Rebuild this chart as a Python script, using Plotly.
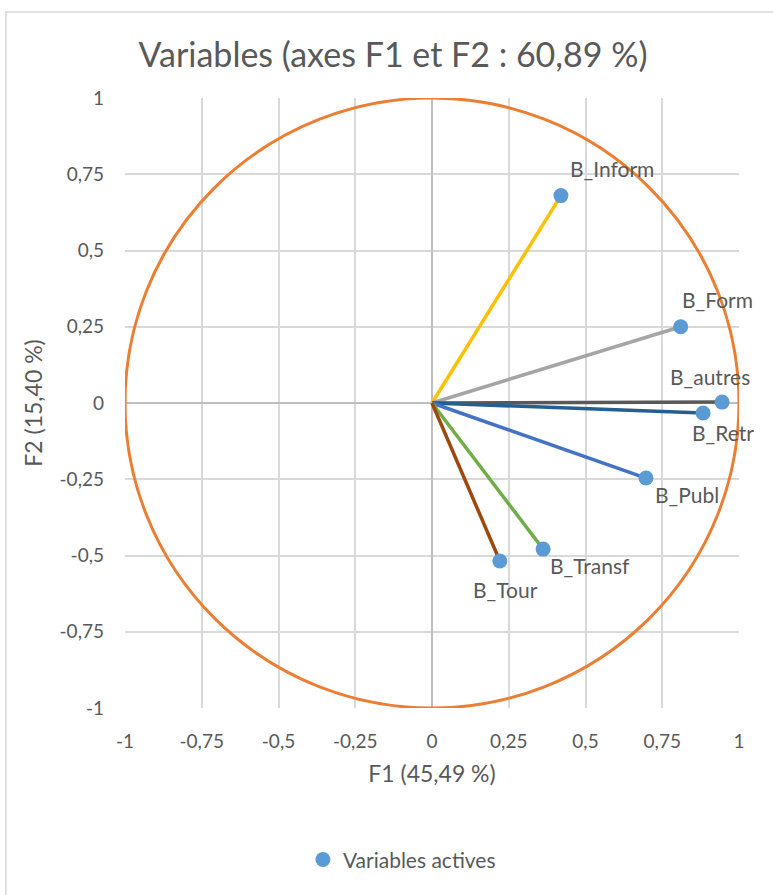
import plotly.graph_objects as go

# coordonnées des variables sur F1 / F2
variables = ["B_Inform", "B_Form", "B_autres", "B_Retr", "B_Publ", "B_Transf", "B_Tour"]
f1 = [0.42, 0.81, 0.945, 0.883, 0.697, 0.362, 0.221]
f2 = [0.68, 0.25, 0.003, -0.033, -0.246, -0.479, -0.518]
couleurs = ["#FFC000", "#A5A5A5", "#595959", "#255E91", "#4472C4", "#70AD47", "#9E480E"]

tick_vals = [-1, -0.75, -0.5, -0.25, 0, 0.25, 0.5, 0.75, 1]
tick_txt = ["-1", "-0,75", "-0,5", "-0,25", "0", "0,25", "0,5", "0,75", "1"]

# décalages des étiquettes (px)
decal = {"B_Inform": (7, 27), "B_Form": (-1, 27), "B_autres": (-54, 26),
         "B_Retr": (-13, -19), "B_Publ": (7, -16), "B_Transf": (5, -16),
         "B_Tour": (-29, -29)}

FONT = "Lato, Calibri, sans-serif"
GRIS = "#595959"

fig = go.Figure()
for nom, x, y, c in zip(variables, f1, f2, couleurs):
    fig.add_trace(go.Scatter(x=[0, x], y=[0, y], mode="lines",
        line=dict(color=c, width=3.5), showlegend=False, hoverinfo="skip"))

fig.add_trace(go.Scatter(x=f1, y=f2, mode="markers", name="Variables actives",
    marker=dict(color="#5B9BD5", size=15)))

for nom, x, y in zip(variables, f1, f2):
    dx, dy = decal[nom]
    fig.add_annotation(x=x, y=y, text=nom, showarrow=False, xanchor="left",
        yanchor="middle", xshift=dx, yshift=dy,
        font=dict(family=FONT, size=21, color=GRIS))

# cercle des corrélations
fig.add_shape(type="circle", xref="x", yref="y", x0=-1, y0=-1, x1=1, y1=1,
    line=dict(color="#ED7D31", width=3), layer="above")
# cadre du graphique
fig.add_shape(type="rect", xref="paper", yref="paper", x0=-0.194, y0=-0.5,
    x1=1.2, y1=1.141, line=dict(color="#D9D9D9", width=1.5), layer="below")

axe = dict(range=[-1, 1], tickvals=tick_vals, ticktext=tick_txt, automargin=False,
    showgrid=True, gridcolor="#D9D9D9", gridwidth=1.5,
    zeroline=True, zerolinecolor="#BFBFBF", zerolinewidth=1.5,
    showline=False, ticks="", tickfont=dict(family=FONT, size=19, color=GRIS))

fig.update_layout(
    width=773, height=895,
    paper_bgcolor="white", plot_bgcolor="white",
    margin=dict(l=125, r=34, t=98, b=187),
    title=dict(text="Variables (axes F1 et F2 : 60,89 %)", x=393 / 773, xanchor="center",
        y=1 - 55 / 895, yanchor="middle", font=dict(family=FONT, size=34, color=GRIS)),
    xaxis=dict(axe, ticklabelstandoff=20, title=dict(text="F1 (45,49 %)", standoff=14,
        font=dict(family=FONT, size=23, color=GRIS))),
    yaxis=dict(axe, ticklabelstandoff=20, title=dict(text="F2 (15,40 %)", standoff=10,
        font=dict(family=FONT, size=23, color=GRIS))),
    legend=dict(orientation="h", x=0.451, xanchor="center", y=-0.249, yanchor="middle",
        itemwidth=30, font=dict(family=FONT, size=21, color=GRIS)),
    showlegend=True,
)

fig.write_html("out.html", config={"displayModeBar": False},
    post_script="document.body.style.margin='0';")
